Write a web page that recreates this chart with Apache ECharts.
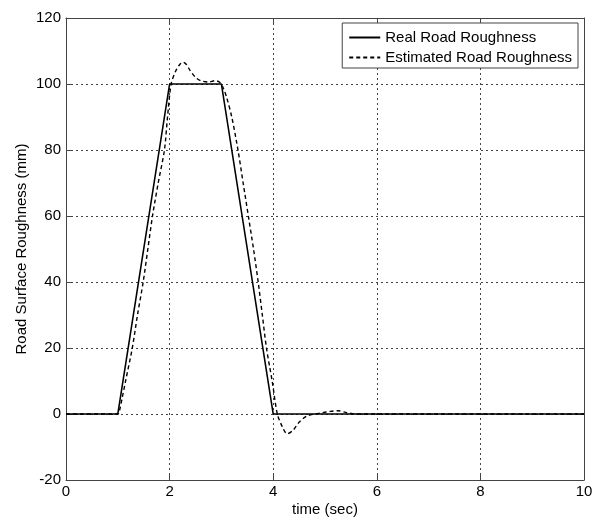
<!DOCTYPE html>
<html><head><meta charset="utf-8">
<script src="https://cdn.jsdelivr.net/npm/echarts@6/dist/echarts.min.js"></script>
<style>html,body{margin:0;padding:0;background:#fff}#c{width:601px;height:519px}</style>
</head><body><div id="c"></div>
<script>
var realX = [0, 1, 2, 3, 4, 10];
var realY = [0, 0, 100, 100, 0, 0];
var estX = [0, 1.0, 1.04, 1.08, 1.15, 1.28, 1.38, 1.49, 1.58, 1.67, 1.78, 1.90, 1.96, 2.03, 2.12, 2.2, 2.26, 2.32, 2.4, 2.5, 2.6, 2.75, 2.88, 2.96, 3.03, 3.1, 3.2, 3.32, 3.42, 3.52, 3.62, 3.71, 3.79, 3.87, 3.98, 4.08, 4.18, 4.27, 4.38, 4.5, 4.65, 4.8, 4.95, 5.1, 5.25, 5.4, 5.6, 10];
var estY = [0, 0, 1.5, 4.5, 10, 20, 30, 40, 50, 60, 70, 80, 90, 100, 104, 106, 106.6, 106, 104, 102, 101, 100.6, 101, 100.6, 99, 96, 90, 80, 70, 60, 50, 40, 30, 20, 10, 0, -4, -6, -5, -2.5, -0.6, 0, 0.4, 0.8, 1, 0.5, 0, 0];
var xTicks = [0, 2, 4, 6, 8, 10];
var yTicks = [-20, 0, 20, 40, 60, 80, 100, 120];

function pairs(xs, ys){ return xs.map(function(x,i){return [x, ys[i]];}); }
var font = 'Liberation Sans, Arial, sans-serif';
var axisColor = '#444';
var gridLine = {show:true, lineStyle:{color:'#444', type:[2,3], width:1}};
var chart = echarts.init(document.getElementById('c'));
chart.setOption({
  animation:false,
  backgroundColor:'#fff',
  grid:{left:66, right:17, top:18, bottom:39, containLabel:false, outerBoundsMode:'none'},
  legend:{
    orient:'vertical', right:23, top:23,
    data:['Real Road Roughness','Estimated Road Roughness'],
    backgroundColor:'#fff', borderColor:'#444', borderWidth:1, borderRadius:0,
    padding:[7,6,3,6], itemGap:5, itemWidth:31, itemHeight:15,
    itemStyle:{opacity:0, borderWidth:0},
    textStyle:{fontFamily:font, fontSize:15, color:'#000'}
  },
  xAxis:[{
    type:'value', min:0, max:10, interval:2, position:'bottom',
    name:'time (sec)', nameLocation:'middle', nameGap:22, nameMoveOverlap:false,
    nameTextStyle:{fontFamily:font, fontSize:15, color:'#000'},
    axisLine:{show:true, onZero:false, lineStyle:{color:axisColor}},
    axisTick:{show:true, inside:true, length:5, lineStyle:{color:axisColor}},
    axisLabel:{fontFamily:font, fontSize:15, color:'#000', margin:4},
    splitLine:gridLine
  },{
    type:'value', min:0, max:10, interval:2, position:'top',
    axisLine:{show:true, onZero:false, lineStyle:{color:axisColor}},
    axisTick:{show:true, inside:true, length:5, lineStyle:{color:axisColor}},
    axisLabel:{show:false}, splitLine:{show:false}
  }],
  yAxis:[{
    type:'value', min:-20, max:120, interval:20, position:'left',
    name:'Road Surface Roughness (mm)', nameLocation:'middle', nameGap:37, nameMoveOverlap:false,
    nameTextStyle:{fontFamily:font, fontSize:15, color:'#000'},
    axisLine:{show:true, onZero:false, lineStyle:{color:axisColor}},
    axisTick:{show:true, inside:true, length:5, lineStyle:{color:axisColor}},
    axisLabel:{fontFamily:font, fontSize:15, color:'#000', margin:5},
    splitLine:gridLine
  },{
    type:'value', min:-20, max:120, interval:20, position:'right',
    axisLine:{show:true, onZero:false, lineStyle:{color:axisColor}},
    axisTick:{show:true, inside:true, length:5, lineStyle:{color:axisColor}},
    axisLabel:{show:false}, splitLine:{show:false}
  }],
  series:[{
    name:'Real Road Roughness', type:'line', symbol:'none',
    data:pairs(realX, realY),
    lineStyle:{color:'#000', width:1.6, type:'solid'},
    itemStyle:{color:'#000'}
  },{
    name:'Estimated Road Roughness', type:'line', symbol:'none', smooth:0.3,
    data:pairs(estX, estY),
    lineStyle:{color:'#000', width:1.4, type:[4,3]},
    itemStyle:{color:'#000'}
  }]
});
</script></body></html>
